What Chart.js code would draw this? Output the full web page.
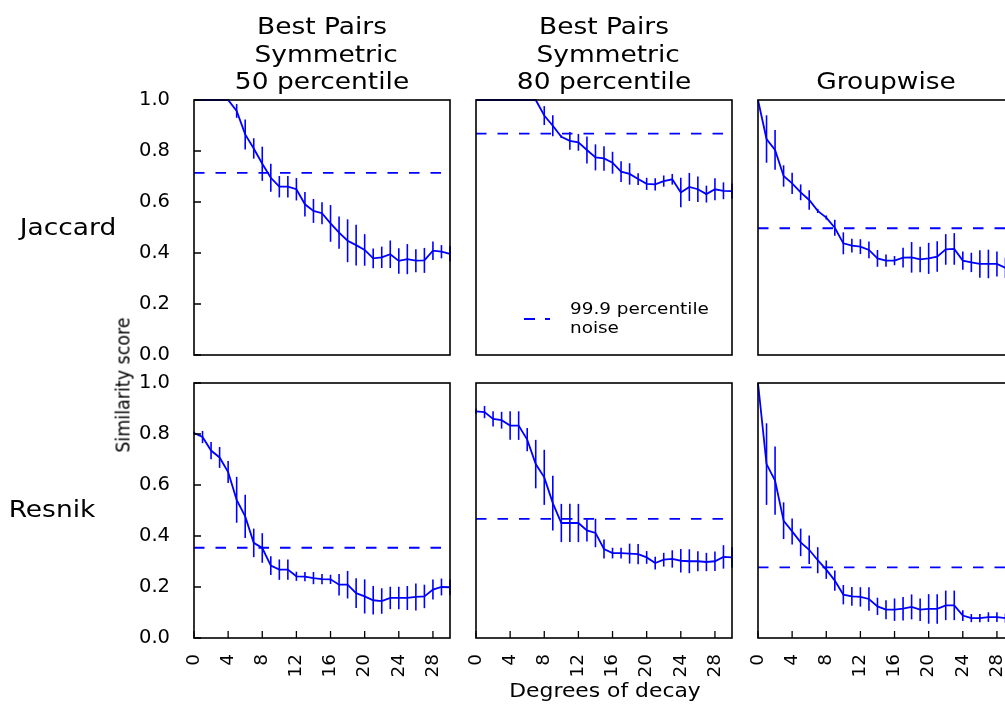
<!DOCTYPE html>
<html>
<head>
<meta charset="utf-8">
<title>Similarity score vs degrees of decay</title>
<script src="https://cdn.jsdelivr.net/npm/chart.js@4.4.1/dist/chart.umd.min.js"></script>
<style>
  html, body { margin: 0; padding: 0; background: #fff; overflow: hidden; }
  body { width: 1005px; height: 704px; position: relative; font-family: "DejaVu Sans", sans-serif; }
  canvas { position: absolute; }
  .txt { position: absolute; white-space: pre; text-align: center; color: #000; }
</style>
</head>
<body>
<script>
// x values (degrees of decay) and axis ticks
const degrees = [0, 1, 2, 3, 4, 5, 6, 7, 8, 9, 10, 11, 12, 13, 14, 15, 16, 17, 18, 19, 20, 21, 22, 23, 24, 25, 26, 27, 28, 29, 30];
const xTicks = [0, 4, 8, 12, 16, 20, 24, 28];
const yTicks = [0, 0.2, 0.4, 0.6, 0.8, 1.0];

const columnTitles = ["Best Pairs\n Symmetric\n50 percentile", "Best Pairs\n Symmetric\n80 percentile", "Groupwise"];
const rowLabels = ["Jaccard", "Resnik"];

// Jaccard row
const jaccardBp50 = [1.0, 1.0, 1.0, 1.0, 1.0, 0.957, 0.865, 0.81, 0.75, 0.695, 0.66, 0.66, 0.65, 0.591, 0.565, 0.556, 0.516, 0.48, 0.448, 0.431, 0.412, 0.379, 0.383, 0.395, 0.369, 0.376, 0.37, 0.371, 0.409, 0.405, 0.397];
const jaccardBp50Err = [0, 0, 0, 0, 0, 0.027, 0.059, 0.04, 0.067, 0.055, 0.042, 0.042, 0.044, 0.048, 0.047, 0.043, 0.072, 0.063, 0.084, 0.08, 0.062, 0.039, 0.042, 0.054, 0.05, 0.059, 0.045, 0.049, 0.036, 0.026, 0.03];
const jaccardBp80 = [1.0, 1.0, 1.0, 1.0, 1.0, 1.0, 1.0, 1.0, 0.939, 0.899, 0.856, 0.84, 0.834, 0.804, 0.775, 0.771, 0.754, 0.719, 0.71, 0.69, 0.671, 0.669, 0.682, 0.689, 0.637, 0.659, 0.65, 0.631, 0.65, 0.644, 0.643];
const jaccardBp80Err = [0, 0, 0, 0, 0, 0, 0, 0, 0.037, 0.041, 0.005, 0.035, 0.033, 0.053, 0.051, 0.048, 0.043, 0.041, 0.042, 0.023, 0.024, 0.024, 0.022, 0.021, 0.058, 0.055, 0.05, 0.033, 0.043, 0.033, 0.03];
const jaccardGroup = [1.0, 0.847, 0.804, 0.702, 0.673, 0.638, 0.608, 0.565, 0.539, 0.499, 0.438, 0.429, 0.425, 0.412, 0.379, 0.37, 0.37, 0.382, 0.383, 0.375, 0.379, 0.386, 0.414, 0.416, 0.37, 0.363, 0.357, 0.357, 0.357, 0.342, 0.335];
const jaccardGroupErr = [0, 0.093, 0.078, 0.042, 0.042, 0.031, 0.038, 0.008, 0.008, 0.031, 0.043, 0.027, 0.029, 0.033, 0.033, 0.024, 0.018, 0.039, 0.06, 0.05, 0.061, 0.06, 0.06, 0.062, 0.036, 0.038, 0.054, 0.056, 0.049, 0.04, 0.04];

// Resnik row
const resnikBp50 = [0.804, 0.788, 0.735, 0.708, 0.651, 0.542, 0.477, 0.373, 0.353, 0.284, 0.268, 0.268, 0.242, 0.241, 0.235, 0.231, 0.23, 0.209, 0.209, 0.176, 0.163, 0.148, 0.145, 0.157, 0.157, 0.157, 0.161, 0.163, 0.19, 0.2, 0.199];
const resnikBp50Err = [0.005, 0.024, 0.034, 0.041, 0.043, 0.09, 0.085, 0.056, 0.058, 0.037, 0.04, 0.04, 0.018, 0.018, 0.024, 0.02, 0.018, 0.042, 0.054, 0.058, 0.067, 0.056, 0.05, 0.044, 0.044, 0.047, 0.053, 0.046, 0.039, 0.033, 0.03];
const resnikBp80 = [0.889, 0.886, 0.859, 0.854, 0.833, 0.833, 0.778, 0.682, 0.63, 0.529, 0.451, 0.451, 0.451, 0.422, 0.412, 0.349, 0.333, 0.333, 0.331, 0.329, 0.316, 0.294, 0.307, 0.31, 0.303, 0.301, 0.301, 0.298, 0.301, 0.318, 0.316];
const resnikBp80Err = [0.01, 0.024, 0.03, 0.033, 0.056, 0.056, 0.046, 0.095, 0.108, 0.107, 0.075, 0.075, 0.075, 0.044, 0.056, 0.037, 0.021, 0.021, 0.039, 0.04, 0.025, 0.025, 0.027, 0.034, 0.046, 0.047, 0.039, 0.036, 0.038, 0.046, 0.04];
const resnikGroup = [1.0, 0.682, 0.617, 0.46, 0.418, 0.375, 0.346, 0.305, 0.268, 0.225, 0.17, 0.163, 0.161, 0.153, 0.124, 0.111, 0.111, 0.115, 0.122, 0.111, 0.114, 0.114, 0.128, 0.128, 0.088, 0.078, 0.078, 0.082, 0.082, 0.078, 0.078];
const resnikGroupErr = [0, 0.16, 0.134, 0.072, 0.051, 0.054, 0.056, 0.051, 0.036, 0.04, 0.038, 0.037, 0.038, 0.046, 0.034, 0.037, 0.044, 0.046, 0.049, 0.044, 0.058, 0.058, 0.058, 0.058, 0.021, 0.016, 0.016, 0.019, 0.019, 0.018, 0.018];

// 99.9 percentile noise level per panel
const jaccardNoise = [0.714, 0.868, 0.497];
const resnikNoise = [0.354, 0.467, 0.277];

const blue = '#0000ff';

Chart.defaults.font.family = "'DejaVu Sans', sans-serif";
Chart.defaults.font.size = 18;
Chart.defaults.color = '#000';

const grid = [
  [[jaccardBp50, jaccardBp50Err], [jaccardBp80, jaccardBp80Err], [jaccardGroup, jaccardGroupErr]],
  [[resnikBp50, resnikBp50Err], [resnikBp80, resnikBp80Err], [resnikGroup, resnikGroupErr]]
];
const noise = [jaccardNoise, resnikNoise];

// where each plot box sits on the page
const colLeft = [194, 476, 758];
const canvasLeft = [0, 460, 742];
const rowTop = [100, 383];
const plotW = 256, plotH = 255;

// black box round the axes and matplotlib-like inward ticks
function frameAndTicks(showX, showY) {
  return {
    id: 'frameAndTicks',
    afterDatasetsDraw(chart) {
      const ctx = chart.ctx;
      const a = chart.chartArea;
      const xs = chart.scales.x, ys = chart.scales.y;
      ctx.save();
      ctx.strokeStyle = '#000';
      ctx.lineWidth = 1.3;
      ctx.beginPath();
      if (showX) {
        xs.ticks.forEach(t => {
          const px = xs.getPixelForValue(t.value);
          ctx.moveTo(px, a.bottom);
          ctx.lineTo(px, a.bottom - 7);
        });
      }
      if (showY) {
        ys.ticks.forEach(t => {
          const py = ys.getPixelForValue(t.value);
          ctx.moveTo(a.left, py);
          ctx.lineTo(a.left + 7, py);
        });
      }
      ctx.stroke();
      ctx.lineWidth = 1.6;
      ctx.strokeRect(a.left, a.top, a.width, a.height);
      ctx.restore();
    }
  };
}

function makePanel(r, c) {
  const vals = grid[r][c][0];
  const errs = grid[r][c][1];
  const level = noise[r][c];
  const padLeft = colLeft[c] - canvasLeft[c];
  const padTop = 10;
  const bottomH = r === 1 ? 66 : 12;

  const canvas = document.createElement('canvas');
  canvas.width = padLeft + plotW + 6;
  canvas.height = padTop + plotH + bottomH;
  canvas.style.left = canvasLeft[c] + 'px';
  canvas.style.top = (rowTop[r] - padTop) + 'px';
  document.body.appendChild(canvas);

  const showX = r === 1;
  const showY = c === 0;

  new Chart(canvas, {
    type: 'line',
    data: {
      datasets: [
        {
          type: 'line',
          data: degrees.map((d, i) => ({ x: d, y: vals[i] })),
          borderColor: blue,
          borderWidth: 1.8,
          pointRadius: 0,
          tension: 0,
          clip: 2,
          order: 0
        },
        {
          type: 'bar',
          data: degrees.map((d, i) => ({ x: d, y: [vals[i] - errs[i], vals[i] + errs[i]] })),
          backgroundColor: blue,
          borderWidth: 0,
          barThickness: 1.6,
          inflateAmount: 0,
          clip: 2,
          order: 1
        },
        {
          type: 'line',
          data: [{ x: 0, y: level }, { x: 30, y: level }],
          borderColor: blue,
          borderWidth: 1.8,
          borderDash: [10.5, 11],
          pointRadius: 0,
          clip: 0,
          order: 2
        }
      ]
    },
    options: {
      responsive: false,
      animation: false,
      events: [],
      layout: {
        padding: { left: showY ? 0 : padLeft, top: padTop, right: 6, bottom: showX ? 6 : bottomH }
      },
      plugins: {
        legend: { display: false },
        tooltip: { enabled: false }
      },
      scales: {
        x: {
          type: 'linear',
          min: 0,
          max: 30,
          offset: false,
          display: showX,
          grid: { display: false },
          border: { display: false },
          afterBuildTicks: s => { s.ticks = xTicks.map(v => ({ value: v })); },
          afterFit: s => {
            s.height = showX ? 60 : 0;
            s.paddingLeft = 0;
            s.paddingRight = 0;
          },
          ticks: {
            minRotation: 90,
            maxRotation: 90,
            autoSkip: false,
            padding: 8,
            font: { size: 18.5 },
            callback: v => String(v)
          }
        },
        y: {
          type: 'linear',
          min: 0,
          max: 1,
          display: showY,
          grid: { display: false },
          border: { display: false },
          afterBuildTicks: s => { s.ticks = yTicks.map(v => ({ value: v })); },
          afterFit: s => {
            s.width = showY ? padLeft : 0;
            s.paddingTop = 0;
            s.paddingBottom = 0;
          },
          ticks: {
            padding: 16,
            font: { size: 19.5 },
            callback: v => v.toFixed(1)
          }
        }
      }
    },
    plugins: [frameAndTicks(showX, showY)]
  });
}

for (let r = 0; r < 2; r++) {
  for (let c = 0; c < 3; c++) {
    makePanel(r, c);
  }
}

// text around the grid (figure is a little wider than tall in its glyphs)
const stretch = 1.15;
function addText(text, cx, baseline, size, lineH) {
  const d = document.createElement('div');
  d.className = 'txt';
  d.textContent = text;
  d.style.fontSize = size + 'px';
  d.style.lineHeight = lineH + 'px';
  d.style.left = cx + 'px';
  d.style.top = (baseline - ((lineH - 1.164 * size) / 2 + 0.928 * size)) + 'px';
  d.style.transform = 'translateX(-50%) scaleX(' + stretch + ')';
  document.body.appendChild(d);
  return d;
}

columnTitles.forEach((t, c) => {
  const lines = t.split('\n').length;
  addText(t, colLeft[c] + plotW / 2, 90 - (lines - 1) * 27.5, 23, 27.5);
});
addText(rowLabels[0], 68, 235, 23, 27);
addText(rowLabels[1], 52, 517.5, 23, 27);
addText('Degrees of decay', 604.5, 697, 19, 22);

const yTitle = document.createElement('div');
yTitle.className = 'txt';
yTitle.textContent = 'Similarity score';
yTitle.style.fontSize = '17.5px';
yTitle.style.lineHeight = '20px';
yTitle.style.left = '123px';
yTitle.style.top = '385px';
yTitle.style.transform = 'translate(-50%, -50%) scaleX(' + stretch + ') rotate(-90deg)';
document.body.appendChild(yTitle);

// legend for the dashed noise line, inside the upper middle panel
const legendSample = document.createElement('div');
legendSample.style.cssText = 'position:absolute;left:523.7px;top:318px;width:26px;height:1.8px;' +
  'background:repeating-linear-gradient(to right,' + blue + ' 0 11.5px,transparent 11.5px 21px);';
document.body.appendChild(legendSample);

const legendText = document.createElement('div');
legendText.className = 'txt';
legendText.textContent = '99.9 percentile\nnoise';
legendText.style.cssText += 'font-size:16px;line-height:18.3px;text-align:left;left:570px;top:300.3px;' +
  'transform-origin:0 0;transform:scaleX(' + stretch + ');';
document.body.appendChild(legendText);
</script>
</body>
</html>
